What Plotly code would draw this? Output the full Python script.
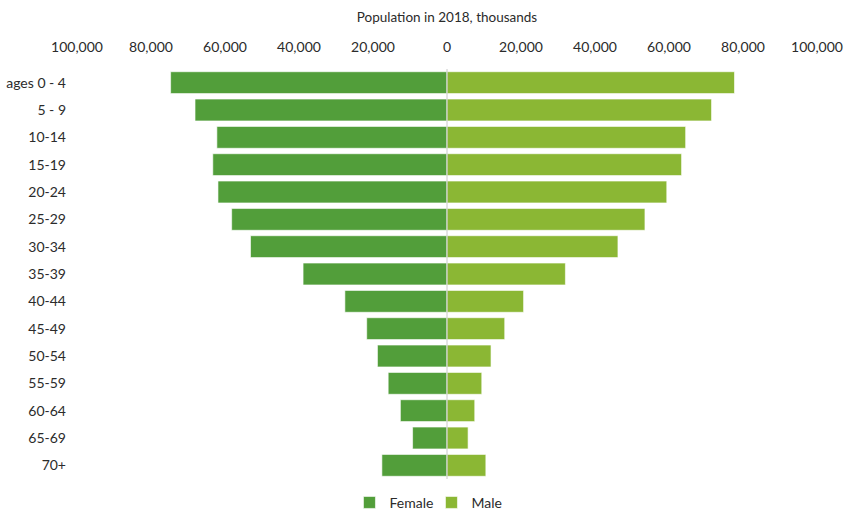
import plotly.graph_objects as go

# Age groups, youngest at the top
age_groups = ["ages 0 - 4", "5 - 9", "10-14", "15-19", "20-24", "25-29", "30-34",
              "35-39", "40-44", "45-49", "50-54", "55-59", "60-64", "65-69", "70+"]

# Population in 2018, thousands
female = [74700, 68100, 62200, 63300, 61900, 58200, 53100,
          38900, 27600, 21700, 18800, 15900, 12600, 9300, 17600]
male = [77700, 71500, 64500, 63400, 59400, 53500, 46200,
        32000, 20700, 15600, 11900, 9400, 7500, 5700, 10500]

tick_values = [-100000, -80000, -60000, -40000, -20000, 0, 20000, 40000, 60000, 80000, 100000]
tick_labels = [f"{abs(v):,}" for v in tick_values]

FEMALE_COLOR = "#529e3a"
MALE_COLOR = "#8bb734"
TEXT_COLOR = "#2b2b2b"
FONT = "Lato"

fig = go.Figure()
fig.add_trace(go.Bar(
    name="Female", y=age_groups, x=[-v for v in female], orientation="h",
    marker=dict(color=FEMALE_COLOR, line=dict(color="rgba(255,255,255,0.6)", width=1)),
    customdata=female, hovertemplate="%{y}: %{customdata:,}<extra>Female</extra>",
))
fig.add_trace(go.Bar(
    name="Male", y=age_groups, x=male, orientation="h",
    marker=dict(color=MALE_COLOR, line=dict(color="rgba(255,255,255,0.6)", width=1)),
    hovertemplate="%{y}: %{x:,}<extra>Male</extra>",
))

# Thin grey divider at zero
fig.add_shape(type="line", xref="x", yref="paper", x0=0, x1=0, y0=0, y1=1,
              line=dict(color="#c8c8c8", width=1), layer="above")

fig.update_layout(
    width=844, height=511,
    margin=dict(l=77, r=27, t=69, b=32, autoexpand=False),
    barmode="relative", bargap=0.2,
    plot_bgcolor="white", paper_bgcolor="white",
    font=dict(family=FONT, size=14, color=TEXT_COLOR),
    showlegend=True,
    legend=dict(orientation="h", x=0.479, xanchor="center",
                yref="container", y=0.016, yanchor="middle",
                font=dict(size=14), itemwidth=30, entrywidth=37,
                traceorder="normal"),
    xaxis=dict(
        side="top", range=[-100000, 100000], automargin=False,
        tickvals=tick_values, ticktext=tick_labels,
        showgrid=False, zeroline=False, showline=False, ticks="",
        ticklabelstandoff=13,
        title=dict(text="Population in 2018, thousands", standoff=12,
                   font=dict(size=13.5)),
        fixedrange=True,
    ),
    yaxis=dict(
        categoryorder="array", categoryarray=age_groups, autorange="reversed",
        automargin=False,
        showgrid=False, zeroline=False, showline=False, ticks="",
        ticklabelstandoff=10,
    ),
)

fig.write_html("out.html")
